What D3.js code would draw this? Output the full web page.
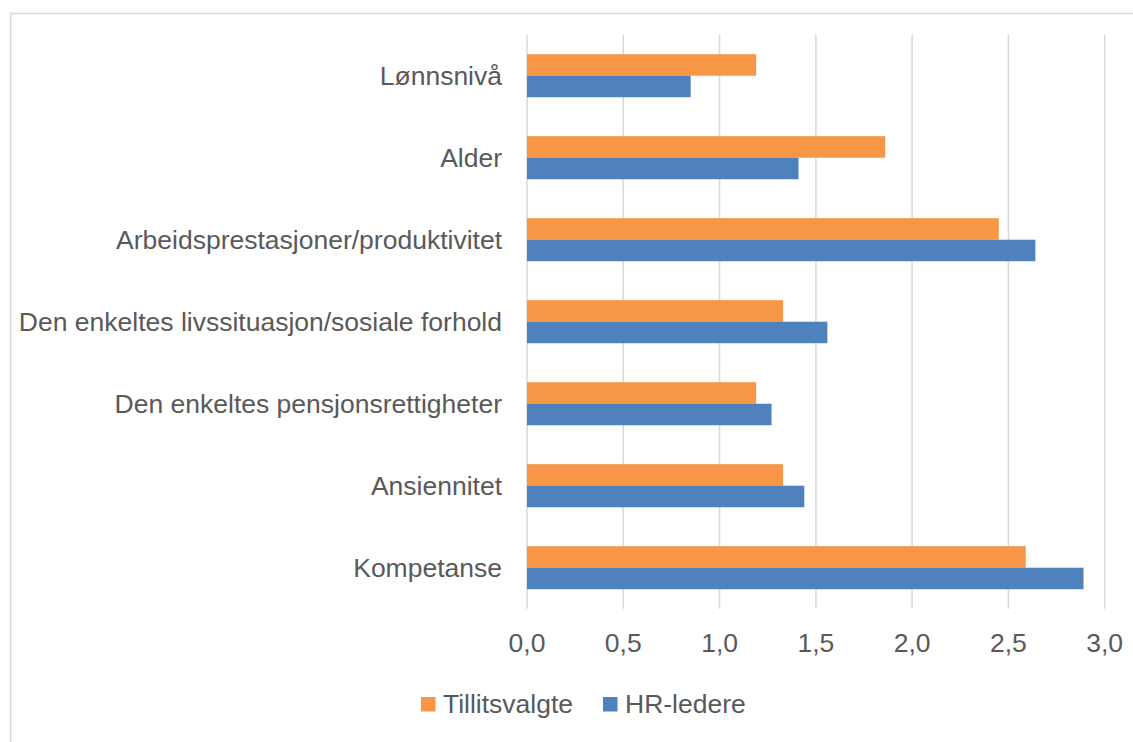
<!DOCTYPE html>
<html>
<head>
<meta charset="utf-8">
<script src="https://cdn.jsdelivr.net/npm/d3@7"></script>
<style>
  body { margin: 0; background: #fff; }
  text { font-family: "Liberation Sans", Arial, Helvetica, sans-serif; fill: #595959; }
</style>
</head>
<body>
<div id="chart"></div>
<script>
// categories, top to bottom
const categories = ["Lønnsnivå", "Alder", "Arbeidsprestasjoner/produktivitet",
  "Den enkeltes livssituasjon/sosiale forhold", "Den enkeltes pensjonsrettigheter",
  "Ansiennitet", "Kompetanse"];
const seriesNames = ["Tillitsvalgte", "HR-ledere"];
const tillitsvalgte = [1.19, 1.86, 2.45, 1.33, 1.19, 1.33, 2.59];
const hrLedere = [0.85, 1.41, 2.64, 1.56, 1.27, 1.44, 2.89];
const tickValues = [0, 0.5, 1, 1.5, 2, 2.5, 3];
const colors = ["#F79646", "#4F81BD"];

const width = 1133, height = 742;
const fontSize = "26.5px";
const svg = d3.select("#chart").append("svg")
  .attr("width", width)
  .attr("height", height);

// chart area border
svg.append("rect")
  .attr("x", 10.5).attr("y", 13.5)
  .attr("width", 1140).attr("height", 760)
  .attr("fill", "none")
  .attr("stroke", "#d9d9d9")
  .attr("stroke-width", 1.5);

const plot = { left: 527, right: 1104.7, top: 34.7, bottom: 608.7 };

const x = d3.scaleLinear().domain([0, 3]).range([plot.left, plot.right]);
const y = d3.scaleBand().domain(categories)
  .range([plot.top, plot.bottom])
  .paddingInner(0.475).paddingOuter(0.2375);
const ySub = d3.scaleBand().domain(seriesNames).range([0, y.bandwidth()]);

// gridlines
svg.append("g").selectAll("line")
  .data(tickValues)
  .enter().append("line")
    .attr("x1", d => x(d)).attr("x2", d => x(d))
    .attr("y1", plot.top).attr("y2", plot.bottom)
    .attr("stroke", "#d9d9d9")
    .attr("stroke-width", 1.5);

// tick labels
const fmt = d => d3.format(".1f")(d).replace(".", ",");
svg.append("g").selectAll("text")
  .data(tickValues)
  .enter().append("text")
    .attr("x", d => x(d))
    .attr("y", 652)
    .attr("text-anchor", "middle")
    .style("font-size", fontSize)
    .text(fmt);

// category labels
svg.append("g").selectAll("text")
  .data(categories)
  .enter().append("text")
    .attr("x", 502)
    .attr("y", d => y(d) + y.bandwidth() / 2)
    .attr("dy", "0.36em")
    .attr("text-anchor", "end")
    .style("font-size", fontSize)
    .text(d => d);

// bars
const rows = categories.map((c, i) => ({ cat: c, values: [tillitsvalgte[i], hrLedere[i]] }));
const groups = svg.append("g").selectAll("g")
  .data(rows)
  .enter().append("g")
    .attr("transform", d => `translate(0,${y(d.cat)})`);

groups.selectAll("rect")
  .data(d => d.values.map((v, j) => ({ name: seriesNames[j], v: v, j: j })))
  .enter().append("rect")
    .attr("x", x(0))
    .attr("y", d => ySub(d.name))
    .attr("width", d => x(d.v) - x(0))
    .attr("height", ySub.bandwidth())
    .attr("fill", d => colors[d.j]);

// legend
const legendX = [421, 603];
const legend = svg.append("g").selectAll("g")
  .data(seriesNames)
  .enter().append("g")
    .attr("transform", (d, i) => `translate(${legendX[i]},697)`);
legend.append("rect")
  .attr("width", 14.5).attr("height", 14.5)
  .attr("fill", (d, i) => colors[i]);
legend.append("text")
  .attr("x", 22)
  .attr("y", 16)
  .style("font-size", fontSize)
  .text(d => d);
</script>
</body>
</html>
